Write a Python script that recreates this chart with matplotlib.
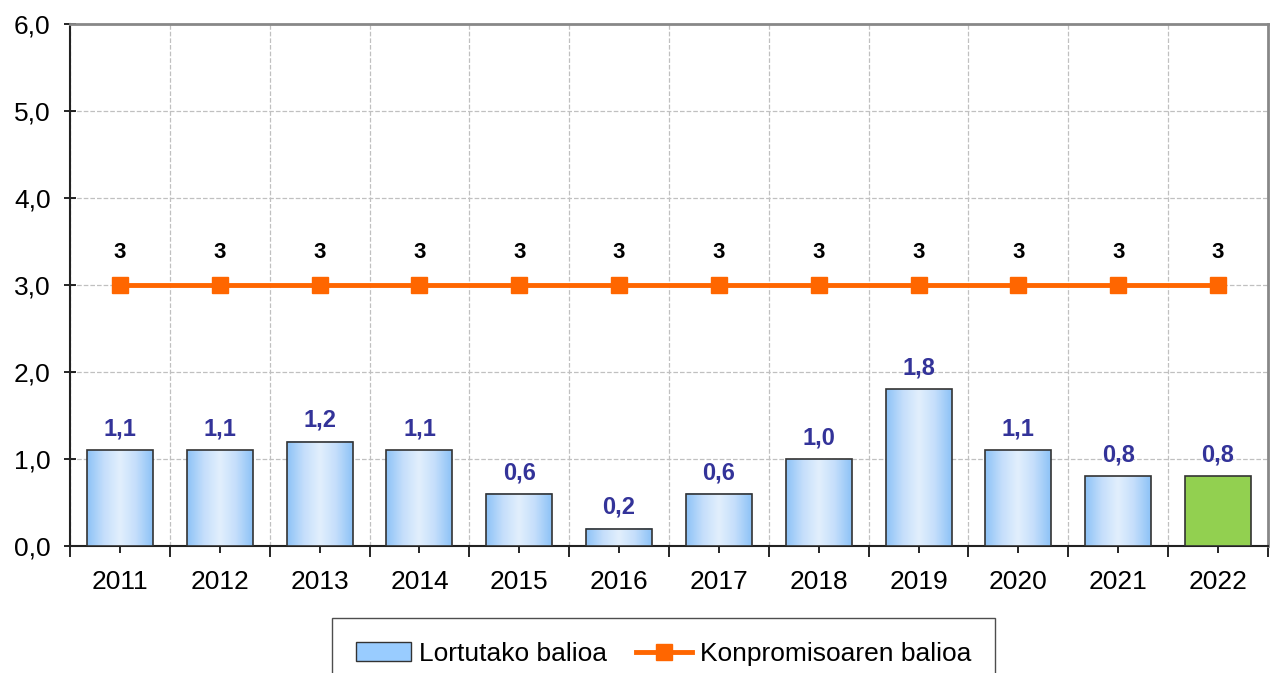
import matplotlib.pyplot as plt
import numpy as np
from matplotlib.colors import LinearSegmentedColormap
from matplotlib.ticker import FixedLocator
from matplotlib.patches import Patch
from matplotlib.lines import Line2D

plt.rcParams['font.family'] = ['Liberation Sans', 'DejaVu Sans']

# Data
years = ['2011', '2012', '2013', '2014', '2015', '2016',
         '2017', '2018', '2019', '2020', '2021', '2022']
lortutako = [1.1, 1.1, 1.2, 1.1, 0.6, 0.2, 0.6, 1.0, 1.8, 1.1, 0.8, 0.8]
konpromisoa = [3, 3, 3, 3, 3, 3, 3, 3, 3, 3, 3, 3]
bar_labels = ['1,1', '1,1', '1,2', '1,1', '0,6', '0,2',
              '0,6', '1,0', '1,8', '1,1', '0,8', '0,8']
ytick_vals = [0, 1, 2, 3, 4, 5, 6]
ytick_labels = ['0,0', '1,0', '2,0', '3,0', '4,0', '5,0', '6,0']


def main():
    fig = plt.figure(figsize=(12.76, 6.73), dpi=100)
    ax = fig.add_axes([0.0549, 0.1887, 0.9388, 0.7756])

    x = np.arange(len(years))
    width = 0.66
    grad_cmap = LinearSegmentedColormap.from_list(
        'blu', ['#8ec3f7', '#c4defb', '#e2effd', '#c4defb', '#8ec3f7'])
    grad = np.linspace(0, 1, 64).reshape(1, -1)

    for i, (xi, v) in enumerate(zip(x, lortutako)):
        x0, x1 = xi - width / 2, xi + width / 2
        if i == len(years) - 1:
            ax.bar(xi, v, width, color='#92d050', edgecolor='#333333',
                   linewidth=1.2, zorder=3)
        else:
            ax.imshow(grad, cmap=grad_cmap, extent=[x0, x1, 0, v],
                      aspect='auto', zorder=3, interpolation='bilinear')
            ax.bar(xi, v, width, fill=False, edgecolor='#333333',
                   linewidth=1.2, zorder=4)
        ax.annotate(bar_labels[i], (xi, v), xytext=(0, 7),
                    textcoords='offset points', ha='center', va='bottom',
                    fontsize=17, fontweight='bold', color='#333399')

    ax.plot(x, konpromisoa, color='#ff6600', linewidth=3.5, marker='s',
            markersize=12, zorder=5)
    for xi, v in zip(x, konpromisoa):
        ax.annotate(str(v), (xi, v), xytext=(0, 16),
                    textcoords='offset points', ha='center', va='bottom',
                    fontsize=16, fontweight='bold', color='black')

    ax.set_xlim(-0.5, len(years) - 0.5)
    ax.set_ylim(0, 6)
    ax.set_yticks(ytick_vals)
    ax.set_yticklabels(ytick_labels, fontsize=19)
    ax.xaxis.set_major_locator(FixedLocator(np.arange(-0.5, len(years), 1)))
    ax.xaxis.set_minor_locator(FixedLocator(x))
    ax.set_xticklabels([])
    ax.set_xticks(x, years, minor=True, fontsize=19)
    ax.tick_params(axis='x', which='major', length=8, direction='out', width=1.2)
    ax.tick_params(axis='x', which='minor', length=5, direction='out',
                   width=1.2, pad=12)
    ax.tick_params(axis='y', which='major', length=8, direction='inout',
                   width=1.2, pad=10)

    ax.grid(True, which='major', color='#c0c0c0', linestyle='--',
            linewidth=0.9, zorder=0)
    ax.set_axisbelow(True)

    ax.spines['left'].set_color('#222222')
    ax.spines['left'].set_linewidth(1.5)
    ax.spines['bottom'].set_color('#222222')
    ax.spines['bottom'].set_linewidth(1.5)
    ax.spines['top'].set_color('#888888')
    ax.spines['top'].set_linewidth(2)
    ax.spines['right'].set_color('#888888')
    ax.spines['right'].set_linewidth(2)

    # legend
    h1 = Patch(facecolor='#99ccff', edgecolor='#333333', linewidth=1)
    h2 = Line2D([], [], color='#ff6600', linewidth=3.5, marker='s',
                markersize=12)
    leg = fig.legend([h1, h2], ['Lortutako balioa', 'Konpromisoaren balioa'],
                     loc='upper center', bbox_to_anchor=(0.520, 0.0817),
                     ncol=2, fontsize=19, frameon=True, fancybox=False,
                     borderpad=0.9, borderaxespad=0, handlelength=2.1,
                     handletextpad=0.3, columnspacing=1.1)
    leg.get_frame().set_edgecolor('#222222')
    leg.get_frame().set_linewidth(1.0)

    fig.savefig('out.png', dpi=100)


if __name__ == '__main__':
    main()
